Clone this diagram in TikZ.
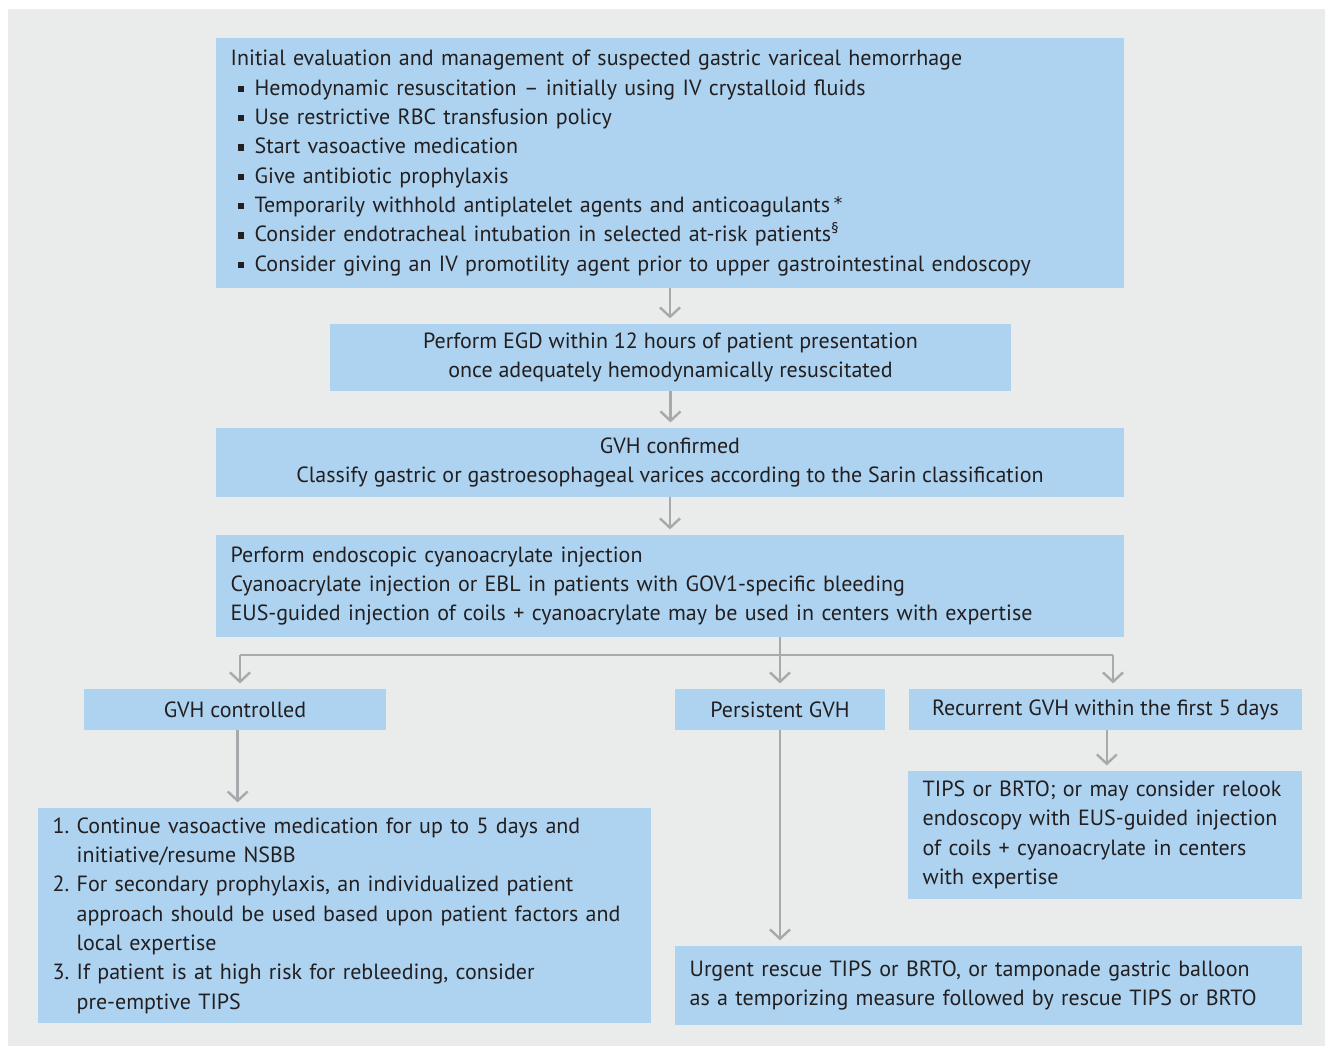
\documentclass[tikz,border=0pt]{standalone}
\usepackage{fontspec}
\setmainfont{PT Sans}
\newfontfamily\dvfont{DejaVu Sans}
\usetikzlibrary{arrows.meta}
\definecolor{bg}{HTML}{EAEBEB}
\definecolor{boxc}{HTML}{ADD3F0}
\definecolor{lnc}{HTML}{A7A9AC}
\definecolor{txt}{HTML}{231F20}
\newcommand\bul{\hspace*{5.25pt}\makebox[12.75pt][l]{\rule[2.4pt]{4.8pt}{4.8pt}}}
\newcommand\num[1]{\makebox[18pt][l]{#1}}
\newcommand\ind{\hspace*{18pt}}
\newcommand\astr{\,\raisebox{2.5pt}{\dvfont\fontsize{13}{13}\selectfont *}}
\begin{document}
\begin{tikzpicture}[x=0.75pt,y=-0.75pt,
 box/.style={fill=boxc, text=txt, inner sep=0pt, font=\fontsize{16.5}{22}\selectfont},
 lbox/.style={box, align=left, inner xsep=11pt},
 cbox/.style={box, align=center},
 ln/.style={draw=lnc, line width=1.8pt},
 conn/.style={ln, -{Straight Barb[length=7pt,width=15pt]}, shorten >=4pt}]
\useasboundingbox (0,0) rectangle (1325,1046);
\fill[bg] (8,9) rectangle (1325,1046);

\node[lbox, minimum width=681pt, minimum height=187.5pt, text width=659pt] (top) at (670,163) {%
Initial evaluation and management of suspected gastric variceal hemorrhage\\
\bul Hemodynamic resuscitation -- initially using IV crystalloid fluids\\
\bul Use restrictive RBC transfusion policy\\
\bul Start vasoactive medication\\
\bul Give antibiotic prophylaxis\\
\bul Temporarily withhold antiplatelet agents and anticoagulants\astr\\
\bul Consider endotracheal intubation in selected at-risk patients\textsuperscript{§}\\
\bul Consider giving an IV promotility agent prior to upper gastrointestinal endoscopy};

\node[cbox, minimum width=510.75pt, minimum height=50.25pt] (egd) at (670.5,357.5) {%
Perform EGD within 12 hours of patient presentation\\
once adequately hemodynamically resuscitated};

\node[cbox, minimum width=681pt, minimum height=51.75pt] (conf) at (670,462.5) {%
GVH confirmed\\
Classify gastric or gastroesophageal varices according to the Sarin classification};

\node[lbox, minimum width=681pt, minimum height=76.5pt, text width=659pt] (cyan) at (670,586) {%
Perform endoscopic cyanoacrylate injection\\
Cyanoacrylate injection or EBL in patients with GOV1-specific bleeding\\
EUS-guided injection of coils + cyanoacrylate may be used in centers with expertise};

\node[cbox, minimum width=226.5pt, minimum height=30.75pt] (ctrl) at (235,709.5) {GVH controlled};
\node[cbox, minimum width=157.5pt, minimum height=30.75pt] (pers) at (780,709.5) {Persistent GVH};
\node[cbox, minimum width=294.75pt, minimum height=30.75pt] (recur) at (1105.5,709.5) {Recurrent GVH within the first 5 days};

\node[lbox, minimum width=295.5pt, minimum height=96pt, text width=273.5pt] (tips) at (1105,835) {%
TIPS or BRTO; or may consider relook\\
endoscopy with EUS-guided injection\\
of coils + cyanoacrylate in centers\\
with expertise};

\node[lbox, minimum width=459.75pt, minimum height=161.25pt, text width=437.75pt] (list) at (344.5,915.5) {%
\num{1.}Continue vasoactive medication for up to 5 days and\\
\ind initiative/resume NSBB\\
\num{2.}For secondary prophylaxis, an individualized patient\\
\ind approach should be used based upon patient factors and\\
\ind local expertise\\
\num{3.}If patient is at high risk for rebleeding, consider\\
\ind pre-emptive TIPS};

\node[lbox, minimum width=470.25pt, minimum height=59.25pt, text width=448.25pt] (urg) at (988.5,985.5) {%
Urgent rescue TIPS or BRTO, or tamponade gastric balloon\\
as a temporizing measure followed by rescue TIPS or BRTO};

\draw[conn] (top.south) -- (top.south |- egd.north);
\draw[conn] (egd.south) -- (egd.south |- conf.north);
\draw[conn] (conf.south) -- (conf.south |- cyan.north);
\coordinate (busL) at (240,655);
\coordinate (busR) at (1113,655);
\draw[ln] (pers.north |- cyan.south) -- (pers.north |- busL);
\draw[ln] (busL) -- (busR);
\draw[conn] (busL) -- (busL |- ctrl.north);
\draw[conn] (pers.north |- busL) -- (pers.north);
\draw[conn] (busR) -- (busR |- recur.north);
\draw[conn] ([xshift=2pt]ctrl.south) -- ([xshift=2pt]ctrl.south |- list.north);
\draw[conn] (pers.south) -- (pers.south |- urg.north);
\draw[conn] ([xshift=1pt]recur.south) -- ([xshift=1pt]recur.south |- tips.north);
\end{tikzpicture}
\end{document}
